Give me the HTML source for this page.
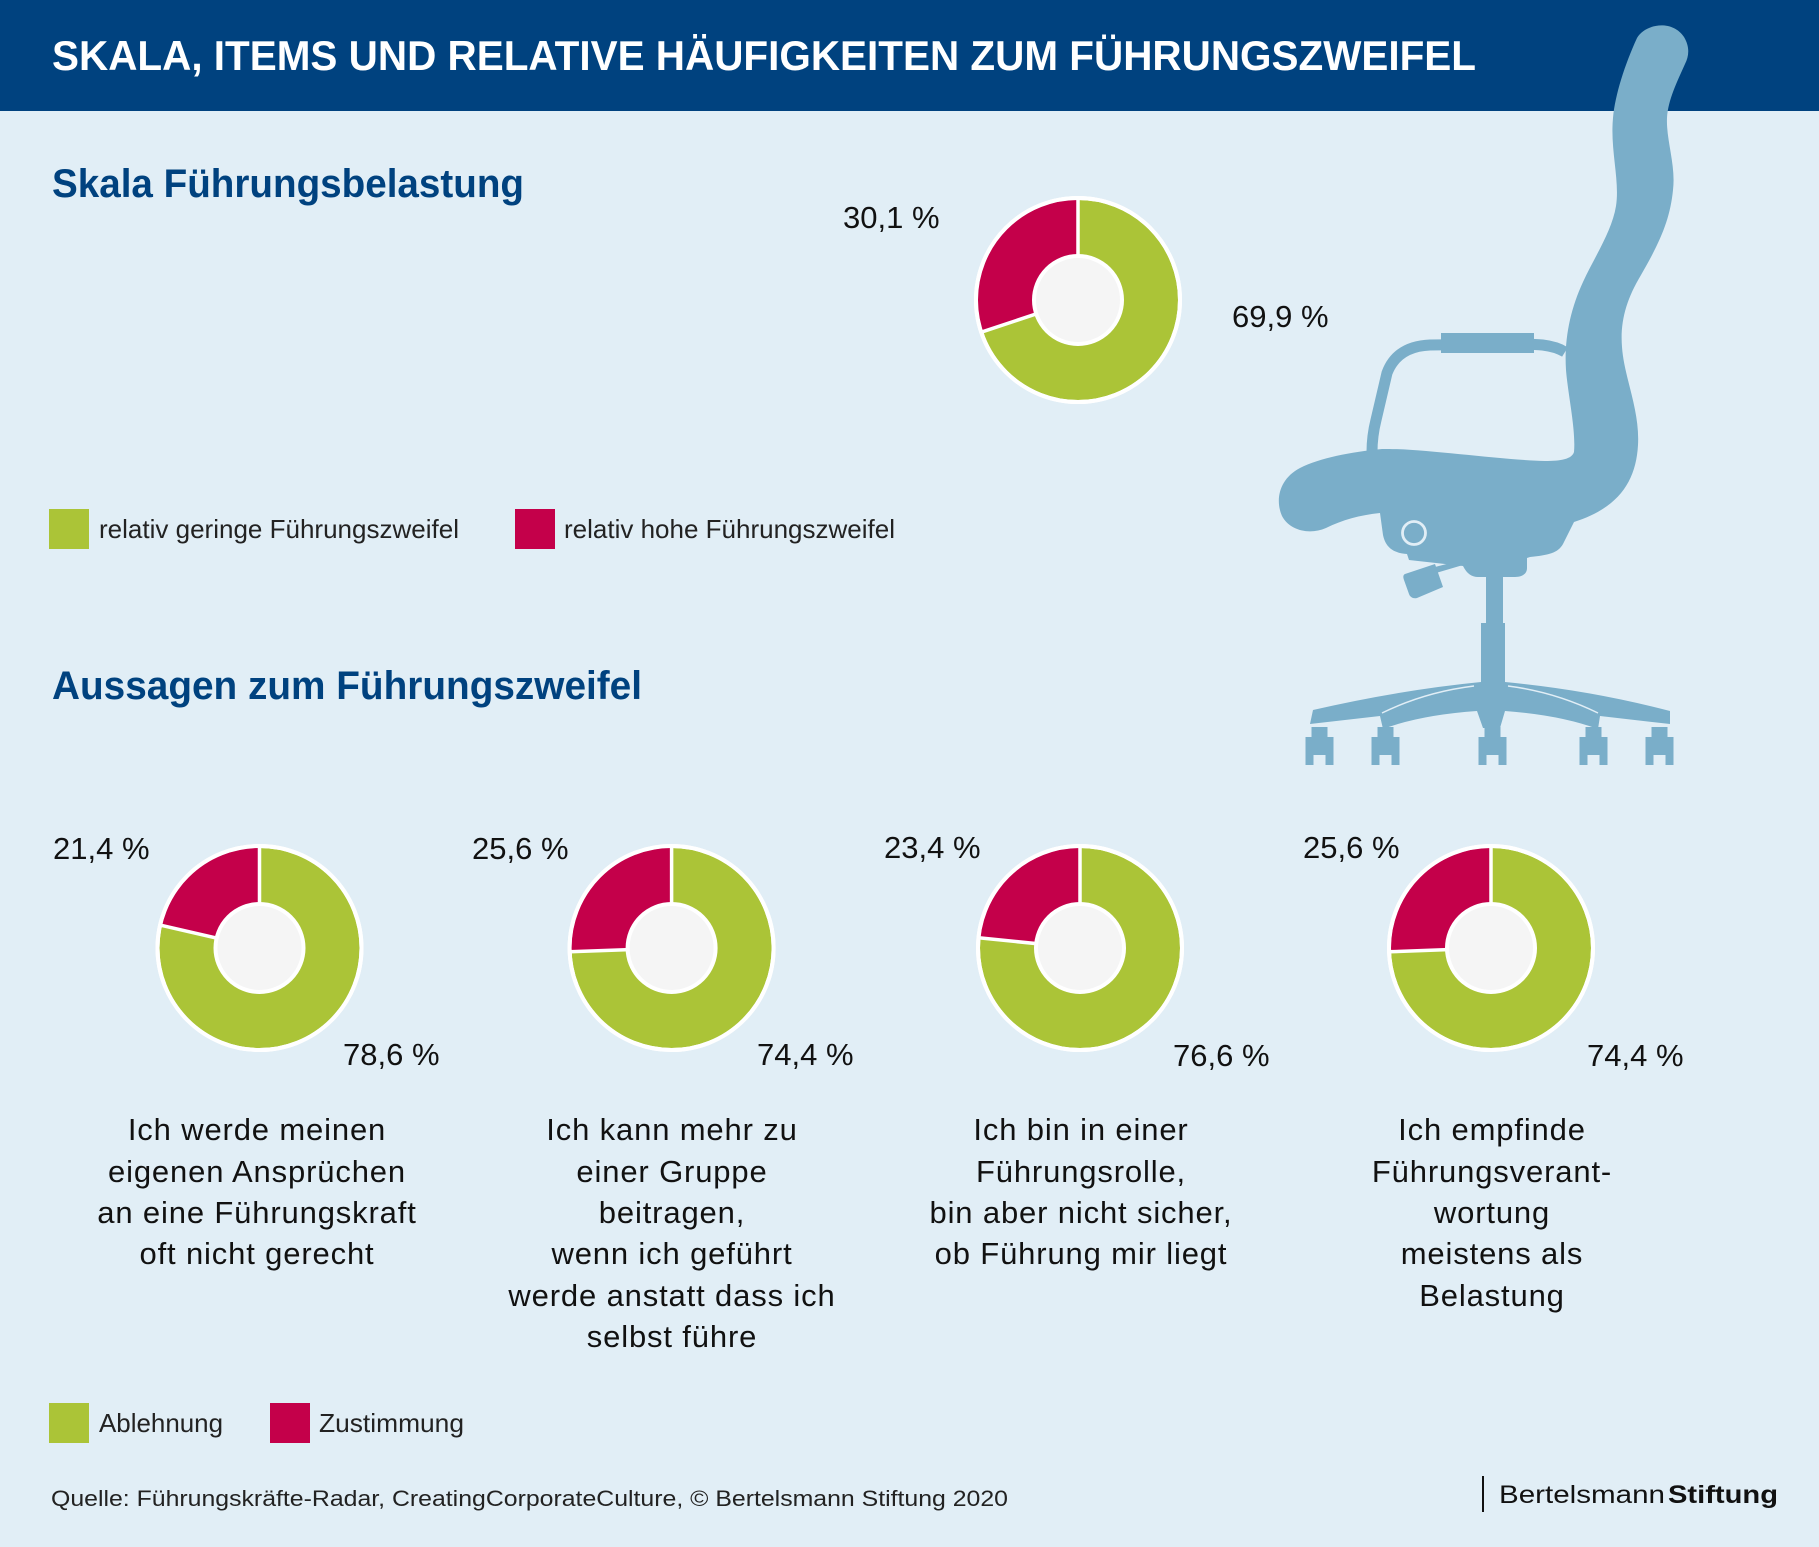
<!DOCTYPE html>
<html><head><meta charset="utf-8"><style>
html,body{margin:0;padding:0;background:#e1eef6;}
svg{display:block;}
text{font-family:"Liberation Sans",sans-serif;}
</style></head><body>
<svg width="1819" height="1547" viewBox="0 0 1819 1547" xmlns="http://www.w3.org/2000/svg">
<rect x="0" y="0" width="1819" height="1547" fill="#e1eef6"/>
<rect x="0" y="0" width="1819" height="111" fill="#00427f"/>
<text x="52" y="70" font-size="42" font-weight="bold" fill="#ffffff" textLength="1424" lengthAdjust="spacingAndGlyphs">SKALA, ITEMS UND RELATIVE HÄUFIGKEITEN ZUM FÜHRUNGSZWEIFEL</text>

<!-- Chair -->
<g fill="#7aaec9">
<path d="M1637,38 C1645,24 1672,19 1684,37 C1690,47 1689,56 1685,64 C1677,82 1668,100 1667,118 C1666,140 1676,165 1673,190 C1670,220 1660,242 1641,275 C1626,300 1620,322 1622,347 C1624,377 1640,410 1638,445 C1636,482 1618,508 1574,522 L1563,544 C1558,553 1549,555 1530,557 L1527,558 L1527,568 C1527,574 1522,577 1515,577 L1478,577 C1472,577 1467,574 1463,566 L1409,560 L1407,554 C1395,553 1386,549 1383,535 L1380,513 C1360,515 1342,520 1326,528 C1310,535 1290,531 1282,516 C1275,500 1279,479 1300,468 C1320,458 1350,452 1382,449 C1420,448 1500,460 1545,461 C1561,461 1572,459 1574,452 C1576,430 1568,395 1566,370 C1564,340 1570,310 1583,282 C1595,256 1612,231 1616,206 C1620,180 1610,150 1613,118 C1615,95 1625,64 1637,38 Z"/>
<path d="M1565,352 C1552,344 1535,344 1515,344 L1430,345 C1406,346 1393,357 1387,373 L1376,420 C1373,432 1372,442 1372,452" fill="none" stroke="#7aaec9" stroke-width="11"/>
<rect x="1441" y="333" width="93" height="20"/>
<!-- lever -->
<path d="M1435,567 L1462,560 L1463,565 L1436,573 Z"/>
<path d="M1405,574 L1435,564 L1443,587 L1417,598 C1413,599 1410,597 1409,594 L1404,580 C1403,577 1403,575 1405,574 Z"/>
<!-- column -->
<rect x="1486" y="570" width="17" height="55"/>
<rect x="1481" y="623" width="24" height="62"/>
<!-- base -->
<path d="M1481,682 Q1400,690 1313,710 L1310,724 L1380,716 L1383,729 Q1420,715 1477,711 L1483,728 L1500,728 L1505,711 Q1560,715 1598,729 L1600,716 L1670,724 L1670,711 Q1590,690 1505,682 Z"/>
<!-- casters -->
<g>
<rect x="1311.5" y="727" width="16" height="12"/><rect x="1305.5" y="737" width="28" height="28"/>
<rect x="1377.5" y="727" width="16" height="12"/><rect x="1371.5" y="737" width="28" height="28"/>
<rect x="1484.5" y="727" width="16" height="12"/><rect x="1478.5" y="737" width="28" height="28"/>
<rect x="1585.5" y="727" width="16" height="12"/><rect x="1579.5" y="737" width="28" height="28"/>
<rect x="1651.5" y="727" width="16" height="12"/><rect x="1645.5" y="737" width="28" height="28"/>
</g>
</g>
<g fill="#e1eef6">
<rect x="1313.5" y="755" width="12" height="10"/>
<rect x="1379.5" y="755" width="12" height="10"/>
<rect x="1486.5" y="755" width="12" height="10"/>
<rect x="1587.5" y="755" width="12" height="10"/>
<rect x="1653.5" y="755" width="12" height="10"/>
</g>
<path d="M1474,686 Q1425,692 1382,713" fill="none" stroke="#e1eef6" stroke-width="1.5"/>
<path d="M1508,686 Q1555,692 1598,713" fill="none" stroke="#e1eef6" stroke-width="1.5"/>
<circle cx="1414" cy="533" r="11.5" fill="none" stroke="#e1eef6" stroke-width="2.8"/>

<!-- Section 1 -->
<text x="52" y="197" font-size="40" font-weight="bold" fill="#00427f" textLength="472" lengthAdjust="spacingAndGlyphs">Skala Führungsbelastung</text>

<!-- Top donut -->
<g>
<circle cx="1078" cy="300" r="102" fill="#abc437" stroke="#ffffff" stroke-width="4"/>
<path d="M1078,300 L1078,198 A102,102 0 0 0 981.2,332.2 Z" fill="#c4004a" stroke="#ffffff" stroke-width="3.5" stroke-linejoin="round"/>
<circle cx="1078" cy="300" r="102" fill="none" stroke="#ffffff" stroke-width="4"/>
<circle cx="1078" cy="300" r="44" fill="#f5f5f5" stroke="#ffffff" stroke-width="4"/>
</g>
<g font-size="31" fill="#111">
<text x="843" y="228">30,1 %</text>
<text x="1232" y="327">69,9 %</text>
</g>

<!-- Legend 1 -->
<rect x="49" y="509" width="40" height="40" fill="#abc437"/>
<text x="99" y="538" font-size="26" fill="#222" textLength="360" lengthAdjust="spacingAndGlyphs">relativ geringe Führungszweifel</text>
<rect x="515" y="509" width="40" height="40" fill="#c4004a"/>
<text x="564" y="538" font-size="26" fill="#222" textLength="331" lengthAdjust="spacingAndGlyphs">relativ hohe Führungszweifel</text>

<!-- Section 2 -->
<text x="52" y="699" font-size="40" font-weight="bold" fill="#00427f" textLength="590" lengthAdjust="spacingAndGlyphs">Aussagen zum Führungszweifel</text>

<!-- Donut 1 -->
<g>
<circle cx="259.5" cy="948" r="102" fill="#abc437" stroke="#ffffff" stroke-width="4"/>
<path d="M259.5,948 L259.5,846 A102,102 0 0 0 160.1,925.1 Z" fill="#c4004a" stroke="#ffffff" stroke-width="3.5" stroke-linejoin="round"/>
<circle cx="259.5" cy="948" r="102" fill="none" stroke="#ffffff" stroke-width="4"/>
<circle cx="259.5" cy="948" r="44" fill="#f5f5f5" stroke="#ffffff" stroke-width="4"/>
</g>
<!-- Donut 2 -->
<g>
<circle cx="671.6" cy="948" r="102" fill="#abc437" stroke="#ffffff" stroke-width="4"/>
<path d="M671.6,948 L671.6,846 A102,102 0 0 0 569.7,951.8 Z" fill="#c4004a" stroke="#ffffff" stroke-width="3.5" stroke-linejoin="round"/>
<circle cx="671.6" cy="948" r="102" fill="none" stroke="#ffffff" stroke-width="4"/>
<circle cx="671.6" cy="948" r="44" fill="#f5f5f5" stroke="#ffffff" stroke-width="4"/>
</g>
<!-- Donut 3 -->
<g>
<circle cx="1080" cy="948" r="102" fill="#abc437" stroke="#ffffff" stroke-width="4"/>
<path d="M1080,948 L1080,846 A102,102 0 0 0 978.5,937.8 Z" fill="#c4004a" stroke="#ffffff" stroke-width="3.5" stroke-linejoin="round"/>
<circle cx="1080" cy="948" r="102" fill="none" stroke="#ffffff" stroke-width="4"/>
<circle cx="1080" cy="948" r="44" fill="#f5f5f5" stroke="#ffffff" stroke-width="4"/>
</g>
<!-- Donut 4 -->
<g>
<circle cx="1491" cy="948" r="102" fill="#abc437" stroke="#ffffff" stroke-width="4"/>
<path d="M1491,948 L1491,846 A102,102 0 0 0 1389.1,951.8 Z" fill="#c4004a" stroke="#ffffff" stroke-width="3.5" stroke-linejoin="round"/>
<circle cx="1491" cy="948" r="102" fill="none" stroke="#ffffff" stroke-width="4"/>
<circle cx="1491" cy="948" r="44" fill="#f5f5f5" stroke="#ffffff" stroke-width="4"/>
</g>

<g font-size="31" fill="#111">
<text x="53" y="859">21,4 %</text>
<text x="343" y="1065">78,6 %</text>
<text x="472" y="859">25,6 %</text>
<text x="757" y="1065">74,4 %</text>
<text x="884" y="858">23,4 %</text>
<text x="1173" y="1066">76,6 %</text>
<text x="1303" y="858">25,6 %</text>
<text x="1587" y="1066">74,4 %</text>
</g>

<!-- Descriptions -->
<g font-size="31" fill="#111" text-anchor="middle" letter-spacing="0.85">
<text x="257" y="1140">Ich werde meinen</text>
<text x="257" y="1182">eigenen Ansprüchen</text>
<text x="257" y="1223">an eine Führungskraft</text>
<text x="257" y="1264">oft nicht gerecht</text>

<text x="672" y="1140">Ich kann mehr zu</text>
<text x="672" y="1182">einer Gruppe</text>
<text x="672" y="1223">beitragen,</text>
<text x="672" y="1264">wenn ich geführt</text>
<text x="672" y="1306">werde anstatt dass ich</text>
<text x="672" y="1347">selbst führe</text>

<text x="1081" y="1140">Ich bin in einer</text>
<text x="1081" y="1182">Führungsrolle,</text>
<text x="1081" y="1223">bin aber nicht sicher,</text>
<text x="1081" y="1264">ob Führung mir liegt</text>

<text x="1492" y="1140">Ich empfinde</text>
<text x="1492" y="1182">Führungsverant-</text>
<text x="1492" y="1223">wortung</text>
<text x="1492" y="1264">meistens als</text>
<text x="1492" y="1306">Belastung</text>
</g>

<!-- Legend 2 -->
<rect x="49" y="1403" width="40" height="40" fill="#abc437"/>
<text x="99" y="1432" font-size="26" fill="#222" textLength="124" lengthAdjust="spacingAndGlyphs">Ablehnung</text>
<rect x="270" y="1403" width="40" height="40" fill="#c4004a"/>
<text x="319" y="1432" font-size="26" fill="#222" textLength="145" lengthAdjust="spacingAndGlyphs">Zustimmung</text>

<!-- Footer -->
<text x="51" y="1506" font-size="22" fill="#222" textLength="957" lengthAdjust="spacingAndGlyphs">Quelle: Führungskräfte-Radar, CreatingCorporateCulture, © Bertelsmann Stiftung 2020</text>
<line x1="1483" y1="1476" x2="1483" y2="1512" stroke="#111" stroke-width="2"/>
<text x="1499" y="1503" font-size="25" fill="#111" textLength="166" lengthAdjust="spacingAndGlyphs">Bertelsmann</text>
<text x="1668" y="1503" font-size="25" font-weight="bold" fill="#111" textLength="110" lengthAdjust="spacingAndGlyphs">Stiftung</text>
</svg>
</body></html>
